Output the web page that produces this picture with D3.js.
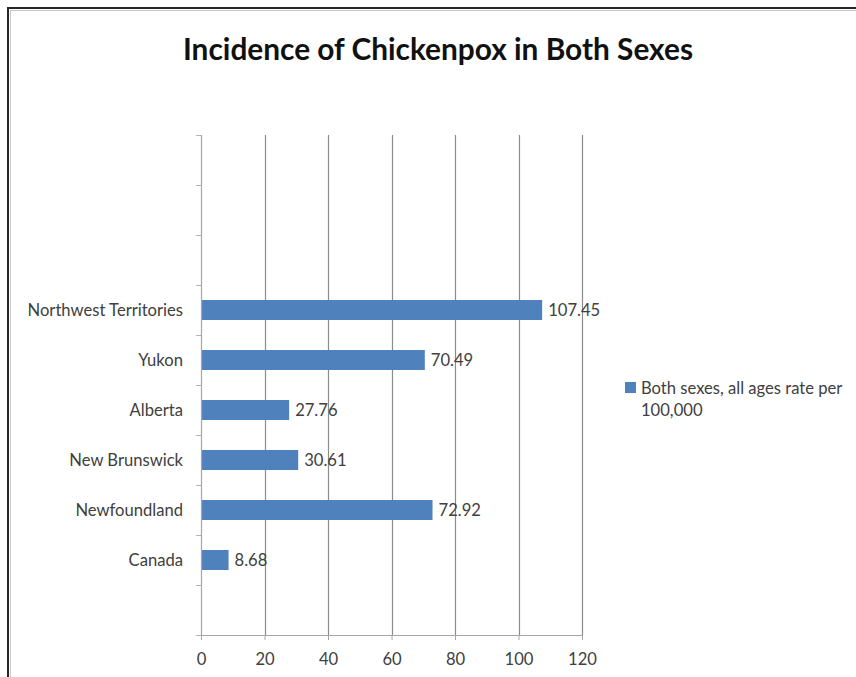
<!DOCTYPE html>
<html>
<head>
<meta charset="utf-8">
<script src="https://cdn.jsdelivr.net/npm/d3@7"></script>
<style>
  html, body { margin: 0; padding: 0; background: #fff; }
  svg { display: block; }
</style>
</head>
<body>
<svg id="chart" width="856" height="677"></svg>
<script>
// Category slots from bottom to top; empty strings are blank rows in the source table.
const categories = ["", "Canada", "Newfoundland", "New Brunswick", "Alberta", "Yukon", "Northwest Territories", "", "", ""];
// Both sexes, all ages rate per 100,000 (null = blank row)
const rates = [null, 8.68, 72.92, 30.61, 27.76, 70.49, 107.45, null, null, null];
const xTicks = [0, 20, 40, 60, 80, 100, 120];
const seriesName = ["Both sexes, all ages rate per", "100,000"];
const title = "Incidence of Chickenpox in Both Sexes";

const svg = d3.select("#chart");
const W = 856, H = 677;
const plot = { left: 201, right: 582, top: 135, bottom: 635 };
const textColor = "#404040";
const barColor = "#4F81BD";
const font = "Lato, 'Open Sans', sans-serif";
const labelSize = 16.6;

// Outer chart frame (runs off the right and bottom edges)
svg.append("rect").attr("x", 8).attr("y", 8).attr("width", W + 20).attr("height", H + 20)
  .attr("fill", "none").attr("stroke", "#262626").attr("stroke-width", 2);
svg.append("rect").attr("x", 10.5).attr("y", 10.5).attr("width", W + 20).attr("height", H + 20)
  .attr("fill", "none").attr("stroke", "#c8c8c8").attr("stroke-width", 1);

// Title
svg.append("text")
  .attr("x", 438).attr("y", 60)
  .attr("text-anchor", "middle")
  .attr("font-family", font).attr("font-weight", 700).attr("font-size", 30)
  .attr("fill", "#111")
  .attr("textLength", 510).attr("lengthAdjust", "spacingAndGlyphs")
  .text(title);

const x = d3.scaleLinear().domain([0, 120]).range([plot.left, plot.right]);
const y = d3.scaleBand()
  .domain(d3.range(categories.length))
  .range([plot.bottom, plot.top])
  .paddingInner(0.6).paddingOuter(0.3);
const step = y.step();

// Vertical gridlines
svg.append("g").selectAll("line")
  .data(xTicks.filter(t => t > 0))
  .join("line")
  .attr("x1", d => Math.round(x(d)) + 0.5).attr("x2", d => Math.round(x(d)) + 0.5)
  .attr("y1", plot.top).attr("y2", plot.bottom)
  .attr("stroke", "#8c8c8c").attr("stroke-width", 1.2);

// Bars
const rows = categories.map((c, i) => ({ i, c, v: rates[i] })).filter(d => d.v != null);
svg.append("g").selectAll("rect")
  .data(rows)
  .join("rect")
  .attr("x", x(0))
  .attr("y", d => y(d.i))
  .attr("width", d => x(d.v) - x(0))
  .attr("height", y.bandwidth())
  .attr("fill", barColor);

// Value labels
svg.append("g").selectAll("text")
  .data(rows)
  .join("text")
  .attr("x", d => x(d.v) + 6)
  .attr("y", d => y(d.i) + y.bandwidth() / 2)
  .attr("dy", "0.36em")
  .attr("font-family", font).attr("font-size", labelSize)
  .attr("fill", textColor)
  .text(d => d.v.toFixed(2));

// X axis
const xAxis = svg.append("g")
  .attr("transform", `translate(0,${plot.bottom})`)
  .call(d3.axisBottom(x).tickValues(xTicks).tickSize(5).tickPadding(13).tickSizeOuter(0));
xAxis.select(".domain").attr("stroke", "#a6a6a6").attr("stroke-width", 1.2);
xAxis.selectAll(".tick line").attr("stroke", "#a6a6a6");
xAxis.selectAll("text").attr("font-family", font).attr("font-size", labelSize).attr("fill", textColor);

// Y axis: line, boundary ticks between category slots, and labels at slot centres
const yg = svg.append("g");
yg.append("line")
  .attr("x1", x(0) + 0.5).attr("x2", x(0) + 0.5)
  .attr("y1", plot.top).attr("y2", plot.bottom)
  .attr("stroke", "#a6a6a6").attr("stroke-width", 1.2);
const boundaries = d3.range(categories.length + 1).map(k => plot.bottom - k * step);
yg.selectAll("line.tick")
  .data(boundaries)
  .join("line").attr("class", "tick")
  .attr("x1", x(0) - 5).attr("x2", x(0))
  .attr("y1", d => Math.round(d) + 0.5).attr("y2", d => Math.round(d) + 0.5)
  .attr("stroke", "#b4b4b4");
yg.selectAll("text")
  .data(categories.map((c, i) => ({ c, i })).filter(d => d.c))
  .join("text")
  .attr("x", x(0) - 18)
  .attr("y", d => y(d.i) + y.bandwidth() / 2)
  .attr("dy", "0.36em")
  .attr("text-anchor", "end")
  .attr("font-family", font).attr("font-size", labelSize)
  .attr("fill", textColor)
  .text(d => d.c);

// Legend
const lg = svg.append("g").attr("transform", "translate(625,382)");
lg.append("rect").attr("width", 11).attr("height", 11).attr("fill", barColor);
lg.selectAll("text")
  .data(seriesName)
  .join("text")
  .attr("x", 16)
  .attr("y", (d, i) => 6 + i * 22)
  .attr("dy", "0.36em")
  .attr("font-family", font).attr("font-size", labelSize)
  .attr("fill", textColor)
  .text(d => d);
</script>
</body>
</html>
